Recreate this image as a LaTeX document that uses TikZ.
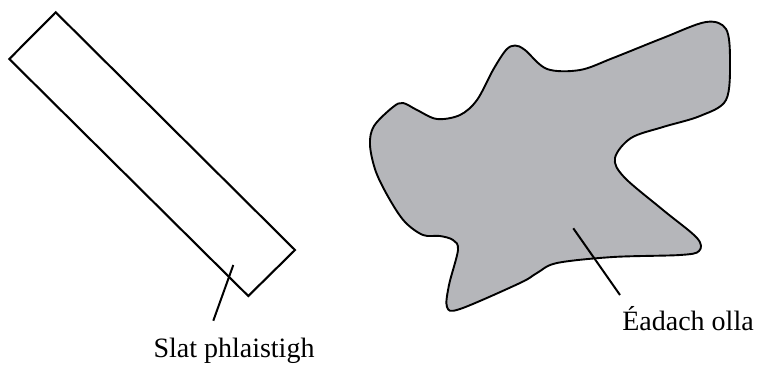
\documentclass[tikz,border=0pt]{standalone}
\usepackage{fontspec}
\setmainfont{Liberation Serif}
\definecolor{clothgray}{RGB}{181,182,186}
\tikzset{
  outline/.style={draw=black, line width=1.9pt, line join=round},
  leader/.style={draw=black, line width=2pt},
  lbl/.style={font=\fontsize{28}{32}\selectfont, anchor=base, inner sep=0pt}
}
\begin{document}
\begin{tikzpicture}[x=1pt,y=-1pt]
\useasboundingbox (0,0) rectangle (758,365);
% plastic slat
\coordinate (rt) at (55.7,12.3);
\coordinate (rl) at (9.3,59);
\coordinate (rb) at (248.3,296);
\coordinate (rr) at (295,250);
\draw[outline, line width=2.1pt, line join=miter] (rt) -- (rr) -- (rb) -- (rl) -- cycle;
% wool cloth
\path[outline, fill=clothgray] plot[smooth cycle, tension=0.55] coordinates {
 (506,50) (515,45.5) (525,50) (547,69) (580,70) (613,58) (663,38) (706,22)
 (726,29) (730,60) (726,100) (700,116) (663,127) (631,138) (615,158)
 (624,177) (663,210) (697,238) (699,251) (680,255) (613,257) (557,263)
 (537,273) (520,283) (460,309) (447,307) (449,285) (458,250) (453,240)
 (440,236) (423,235) (405,222) (390,200) (376,172) (370,145) (374,126)
 (393,107) (403,103) (417,110) (437,119) (460,115) (477,100) (493,70)};
% labels
\node[lbl] (slat) at (234,357) {Slat phlaistigh};
\node[lbl] (cloth) at (688,330) {Éadach olla};
\coordinate (s1) at (233.3,265);
\coordinate (s2) at (213.3,320.7);
\coordinate (c1) at (573.3,228.3);
\coordinate (c2) at (620,295);
\draw[leader] (s1) -- (s2);
\draw[leader] (c1) -- (c2);
\end{tikzpicture}
\end{document}
